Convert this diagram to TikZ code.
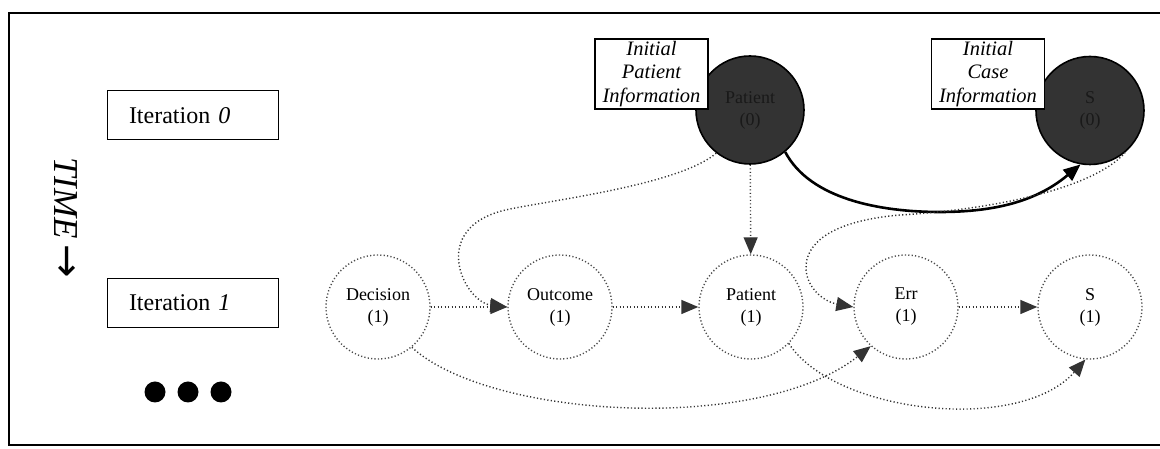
\documentclass[tikz,border=0pt]{standalone}
\usepackage{fontspec}
\setmainfont{Liberation Serif}
\newfontfamily\arrowfont{DejaVu Sans}
\usetikzlibrary{arrows.meta}
\begin{document}
\begin{tikzpicture}[x=1pt,y=1pt,
  frameline/.style={line width=2.4pt},
  iterbox/.style={draw, line width=1pt, minimum width=171pt, minimum height=49pt,
    inner xsep=22pt, text width=127pt, align=left, font=\fontsize{24}{28}\selectfont},
  infobox/.style={draw, fill=white, line width=1.4pt, minimum width=113pt, minimum height=70pt,
    inner sep=2pt, align=center, font=\fontsize{20.5}{23.5}\selectfont\itshape},
  darknode/.style={circle, draw=black, line width=1.6pt, fill=black!80, minimum size=108pt,
    inner sep=0pt, align=center, text=black!90, font=\fontsize{18}{22}\selectfont},
  varnode/.style={circle, draw=black!70, line width=1.4pt, dash pattern=on 1.2pt off 2.2pt,
    minimum size=104pt, inner sep=0pt, align=center, font=\fontsize{18}{22}\selectfont},
  link/.style={draw=black!80, line width=1.4pt, dash pattern=on 1.2pt off 2.3pt,
    -{Triangle[length=17pt,width=14pt]}},
  strong/.style={draw=black, line width=2.6pt, -{Triangle[length=17pt,width=14pt]}},
  bigdot/.style={circle, fill=black, minimum size=21pt, inner sep=0pt}
]
\useasboundingbox (0,0) rectangle (1160,449);

% outer frame (open to the right)
\draw[frameline] (1160,436) -- (9,436) -- (9,4) -- (1160,4);

% iteration labels and time axis
\node[iterbox] (it0) at (192.5,333.5) {Iteration \textit{0}};
\node[iterbox] (it1) at (192.5,146) {Iteration \textit{1}};
\node[rotate=-90, font=\fontsize{35}{35}\selectfont] (time) at (66,231)
  {\textit{TIME}\,{\arrowfont\fontsize{40}{40}\selectfont →}};
\node[bigdot] (d1) at (155,57) {};
\node[bigdot] (d2) at (188,57) {};
\node[bigdot] (d3) at (221,57) {};

% iteration 0: initial states
\node[darknode] (p0) at (750,339) {Patient\\(0)};
\node[darknode] (s0) at (1090,338.5) {S\\(0)};
\node[infobox] (pinfo) at (651.5,375) {Initial\\Patient\\Information};
\node[infobox] (cinfo) at (988,375) {Initial\\Case\\Information};

% iteration 1: variables
\node[varnode] (dec) at (378,142) {Decision\\(1)};
\node[varnode] (out) at (560,142) {Outcome\\(1)};
\node[varnode] (pat) at (751,142) {Patient\\(1)};
\node[varnode] (err) at (906,142) {Err\\(1)};
\node[varnode] (s1) at (1090,142) {S\\(1)};

% dependencies
\draw[link] (dec) -- (out);
\draw[link] (out) -- (pat);
\draw[link] (err) -- (s1);
\draw[link] (p0) -- (pat);
\draw[link] (p0.232) .. controls (680,265) and (560,250) .. (510,240)
  .. controls (460,230) and (455,200) .. (460,180)
  .. controls (465,160) and (480,145) .. (out.west);
\draw[strong] (p0.-50) .. controls (810,250) and (880,237) .. (940,237)
  .. controls (1010,237) and (1045,255) .. (s0.-100);
\draw[link] (s0.-50) .. controls (1095,262) and (1000,240) .. (900,234)
  .. controls (830,228) and (805,205) .. (806,180)
  .. controls (807,160) and (825,147) .. (err.west);
\draw[link] (dec.-50) .. controls (490,30) and (760,15) .. (err.228);
\draw[link] (pat.-44) .. controls (835,35) and (1020,15) .. (s1.-95);
\end{tikzpicture}
\end{document}
